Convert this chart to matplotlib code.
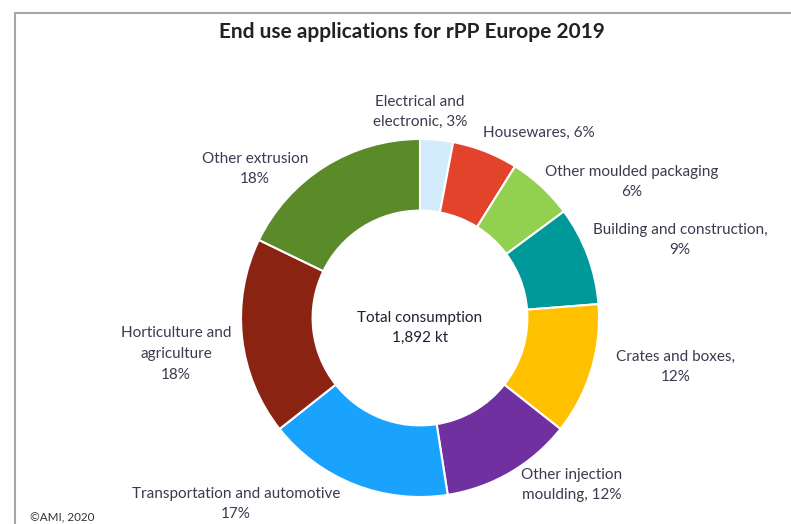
import matplotlib.pyplot as plt

# DATA
categories = ["Electrical and\nelectronic", "Housewares", "Other moulded packaging",
              "Building and construction,", "Crates and boxes,", "Other injection\nmoulding",
              "Transportation and automotive", "Horticulture and\nagriculture", "Other extrusion"]
shares = [3, 6, 6, 9, 12, 12, 17, 18, 18]
label_texts = ["Electrical and\nelectronic, 3%", "Housewares, 6%", "Other moulded packaging\n6%",
               "Building and construction,\n9%", "Crates and boxes,\n12%", "Other injection\nmoulding, 12%",
               "Transportation and automotive\n17%", "Horticulture and\nagriculture\n18%",
               "Other extrusion\n18%"]
colors = ["#D3ECFC", "#E2432A", "#92D050", "#009999", "#FFC000",
          "#7030A0", "#19A3FF", "#8B2313", "#5B8A29"]
total_kt = "1,892"

# label placement in image pixels (x, y from top)
label_pos = [(420, 112), (539, 133), (632, 182), (680, 240), (676, 367),
             (572, 485), (236, 504), (176, 354), (255, 169)]

W, H = 791, 524
plt.rcParams['font.family'] = ['Lato', 'DejaVu Sans']
text_color = "#3A3A50"

fig = plt.figure(figsize=(W / 100, H / 100), dpi=100)
ax = fig.add_axes([0, 0, 1, 1])

cx, cy, r = 420, H - 318, 179
ax.pie(shares, colors=colors, startangle=90, counterclock=False,
       center=(cx, cy), radius=r, frame=True,
       wedgeprops=dict(width=r * 0.4, edgecolor='white', linewidth=1.5))
ax.set_xlim(0, W)
ax.set_ylim(0, H)
ax.set_aspect('equal')
ax.axis('off')

for txt, (px, py) in zip(label_texts, label_pos):
    ax.text(px, H - py, txt, ha='center', va='center', fontsize=11,
            color=text_color, linespacing=1.6)

ax.text(cx, H - 328, f"Total consumption\n{total_kt} kt", ha='center', va='center',
        fontsize=11, color="#1F1F30", linespacing=1.6)

ax.text(412, H - 32, "End use applications for rPP Europe 2019", ha='center', va='center',
        fontsize=15, fontweight='bold', color="#222222")

ax.text(30, H - 518, "©AMI, 2020", ha='left', va='center', fontsize=8.4, color="#333333")

# frame (left and top edges of the original chart box)
ax.plot([15, W], [H - 13, H - 13], color="#A6A6A6", lw=1.5, clip_on=False)
ax.plot([15, 15], [H - 13, 0], color="#A6A6A6", lw=1.5, clip_on=False)

fig.savefig("out.png", dpi=100)
